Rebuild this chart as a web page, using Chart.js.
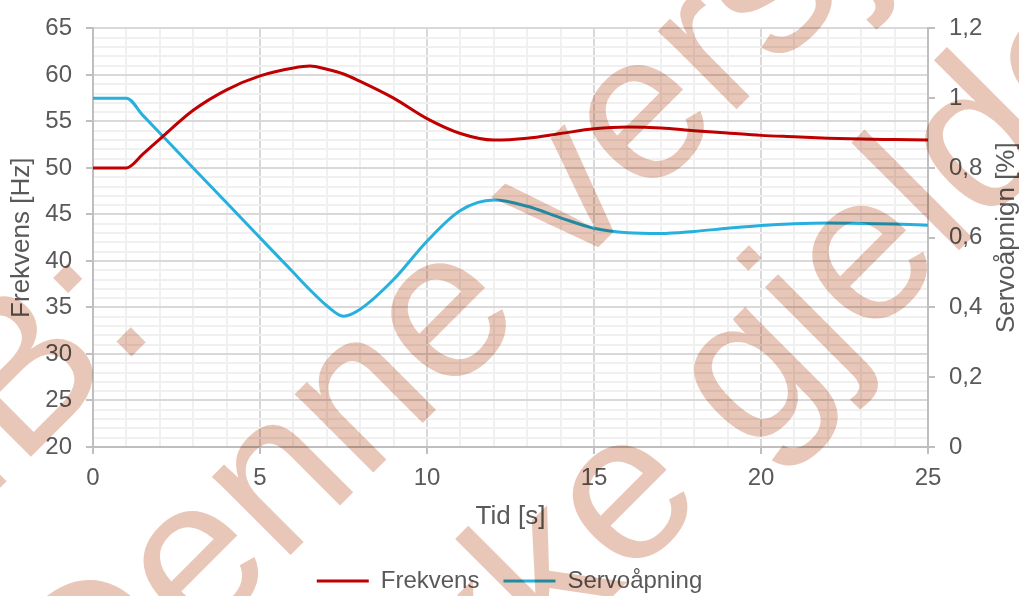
<!DOCTYPE html>
<html>
<head>
<meta charset="utf-8">
<script src="https://cdn.jsdelivr.net/npm/chart.js@4/dist/chart.umd.min.js"></script>
<style>
    html, body { margin: 0; padding: 0; background: #fff; }
    #wrap { width: 1019px; height: 596px; }
</style>
</head>
<body>
<div id="wrap"><canvas id="chart" width="1019" height="596"></canvas></div>
<script>
// Tid [s]
const tid = [0, 1, 1.5, 2, 3, 4, 5, 6, 6.5, 7, 7.5, 8, 9, 10, 11, 12, 13, 14, 15, 16, 17, 18, 19, 20, 21, 22, 23, 24, 25];
// Frekvens [Hz] (venstre akse)
const frekvens = [50, 50, 51.5, 53.1, 56.2, 58.4, 59.9, 60.75, 60.95, 60.6, 60.1, 59.3, 57.5, 55.3, 53.7, 53.0, 53.2, 53.7, 54.2, 54.4, 54.3, 54.0, 53.75, 53.5, 53.35, 53.2, 53.1, 53.05, 53.0];
// Servoåpning (høyre akse)
const servo = [1.0, 1.0, 0.95, 0.9, 0.8, 0.7, 0.6, 0.5, 0.45, 0.405, 0.375, 0.395, 0.48, 0.59, 0.678, 0.708, 0.69, 0.657, 0.627, 0.614, 0.612, 0.618, 0.627, 0.635, 0.64, 0.642, 0.641, 0.639, 0.636];

const seriesNames = ['Frekvens', 'Servoåpning'];
const axisTitles = { x: 'Tid [s]', y: 'Frekvens [Hz]', y1: 'Servoåpnign [%]' };
const watermarkLines = ['NB:', 'Denne versjonen', 'er ikke gjeldende'];

const textColor = '#595959';
const fontFamily = "'Liberation Sans', Arial, sans-serif";
const majorGrid = '#d9d9d9';
const minorGrid = '#f0f0f0';
const axisLine = '#bfbfbf';

const toPoints = (ys) => tid.map((t, i) => ({ x: t, y: ys[i] }));
const isMajor = (v) => Math.abs(v % 5) < 1e-6;

// right axis title reads bottom-to-top, so draw it ourselves
const rightTitlePlugin = {
    id: 'rightTitle',
    afterDraw(chart) {
        const ctx = chart.ctx;
        ctx.save();
        ctx.translate(1007, (chart.chartArea.top + chart.chartArea.bottom) / 2);
        ctx.rotate(-Math.PI / 2);
        ctx.fillStyle = textColor;
        ctx.font = '26px ' + fontFamily;
        ctx.textAlign = 'center';
        ctx.textBaseline = 'middle';
        ctx.fillText(axisTitles.y1, 0, 0);
        ctx.restore();
    }
};

// diagonal "NB" stamp over the whole picture
const watermarkPlugin = {
    id: 'watermark',
    afterDraw(chart) {
        const ctx = chart.ctx;
        ctx.save();
        ctx.globalCompositeOperation = 'multiply';
        ctx.rotate(-Math.PI / 4);
        ctx.fillStyle = 'rgb(233, 199, 184)';
        ctx.font = '210px ' + fontFamily;
        ctx.textAlign = 'left';
        ctx.textBaseline = 'alphabetic';
        const baselines = [345, 598, 855];
        watermarkLines.forEach((line, i) => ctx.fillText(line, -470, baselines[i]));
        ctx.restore();
    }
};

const ctx = document.getElementById('chart');
new Chart(ctx, {
    type: 'line',
    data: {
        datasets: [{
            label: seriesNames[0],
            data: toPoints(frekvens),
            yAxisID: 'y',
            borderColor: '#c00000',
            backgroundColor: '#c00000',
            borderWidth: 3,
            pointRadius: 0,
            cubicInterpolationMode: 'monotone'
        }, {
            label: seriesNames[1],
            data: toPoints(servo),
            yAxisID: 'y1',
            borderColor: 'rgb(38, 176, 222)',
            backgroundColor: 'rgb(38, 176, 222)',
            borderWidth: 3,
            pointRadius: 0,
            cubicInterpolationMode: 'monotone'
        }]
    },
    options: {
        responsive: false,
        animation: false,
        layout: { padding: { top: 28, left: 0, right: 0, bottom: -7 } },
        plugins: {
            legend: {
                position: 'bottom',
                labels: {
                    usePointStyle: true,
                    pointStyle: 'line',
                    pointStyleWidth: 52,
                    padding: 24,
                    color: textColor,
                    font: { family: fontFamily, size: 24 }
                }
            },
            tooltip: { enabled: false }
        },
        scales: {
            x: {
                type: 'linear',
                min: 0,
                max: 25,
                afterFit: (s) => { s.height = 603 - 447 - s.chart.legend.height; },
                ticks: {
                    stepSize: 1,
                    autoSkip: false,
                    maxRotation: 0,
                    padding: 10,
                    color: textColor,
                    font: { family: fontFamily, size: 24 },
                    callback: (v) => isMajor(v) ? String(v) : ''
                },
                grid: {
                    color: (c) => isMajor(c.tick.value) ? majorGrid : minorGrid,
                    tickColor: (c) => isMajor(c.tick.value) ? axisLine : 'rgba(0,0,0,0)',
                    lineWidth: 2,
                    tickLength: 7
                },
                border: { color: axisLine, width: 2 },
                title: {
                    display: true,
                    text: axisTitles.x,
                    color: textColor,
                    font: { family: fontFamily, size: 26 },
                    padding: { top: 0, bottom: 13 }
                }
            },
            y: {
                position: 'left',
                min: 20,
                max: 65,
                afterFit: (s) => { s.width = 93; },
                ticks: {
                    stepSize: 1,
                    autoSkip: false,
                    padding: 14,
                    color: textColor,
                    font: { family: fontFamily, size: 24 },
                    callback: (v) => isMajor(v) ? String(v) : ''
                },
                grid: {
                    color: (c) => isMajor(c.tick.value) ? majorGrid : minorGrid,
                    tickColor: (c) => isMajor(c.tick.value) ? axisLine : 'rgba(0,0,0,0)',
                    lineWidth: 2,
                    tickLength: 7
                },
                border: { color: axisLine, width: 2 },
                title: {
                    display: true,
                    text: axisTitles.y,
                    color: textColor,
                    font: { family: fontFamily, size: 26 },
                    padding: { top: 6, bottom: 0 }
                }
            },
            y1: {
                position: 'right',
                min: 0,
                max: 1.2,
                afterFit: (s) => { s.width = 91; },
                ticks: {
                    stepSize: 0.2,
                    padding: 14,
                    color: textColor,
                    font: { family: fontFamily, size: 24 },
                    callback: (v) => String(Math.round(v * 10) / 10).replace('.', ',')
                },
                grid: {
                    drawOnChartArea: false,
                    tickColor: axisLine,
                    lineWidth: 2,
                    tickLength: 7
                },
                border: { color: axisLine, width: 2 }
            }
        }
    },
    plugins: [rightTitlePlugin, watermarkPlugin]
});
</script>
</body>
</html>
